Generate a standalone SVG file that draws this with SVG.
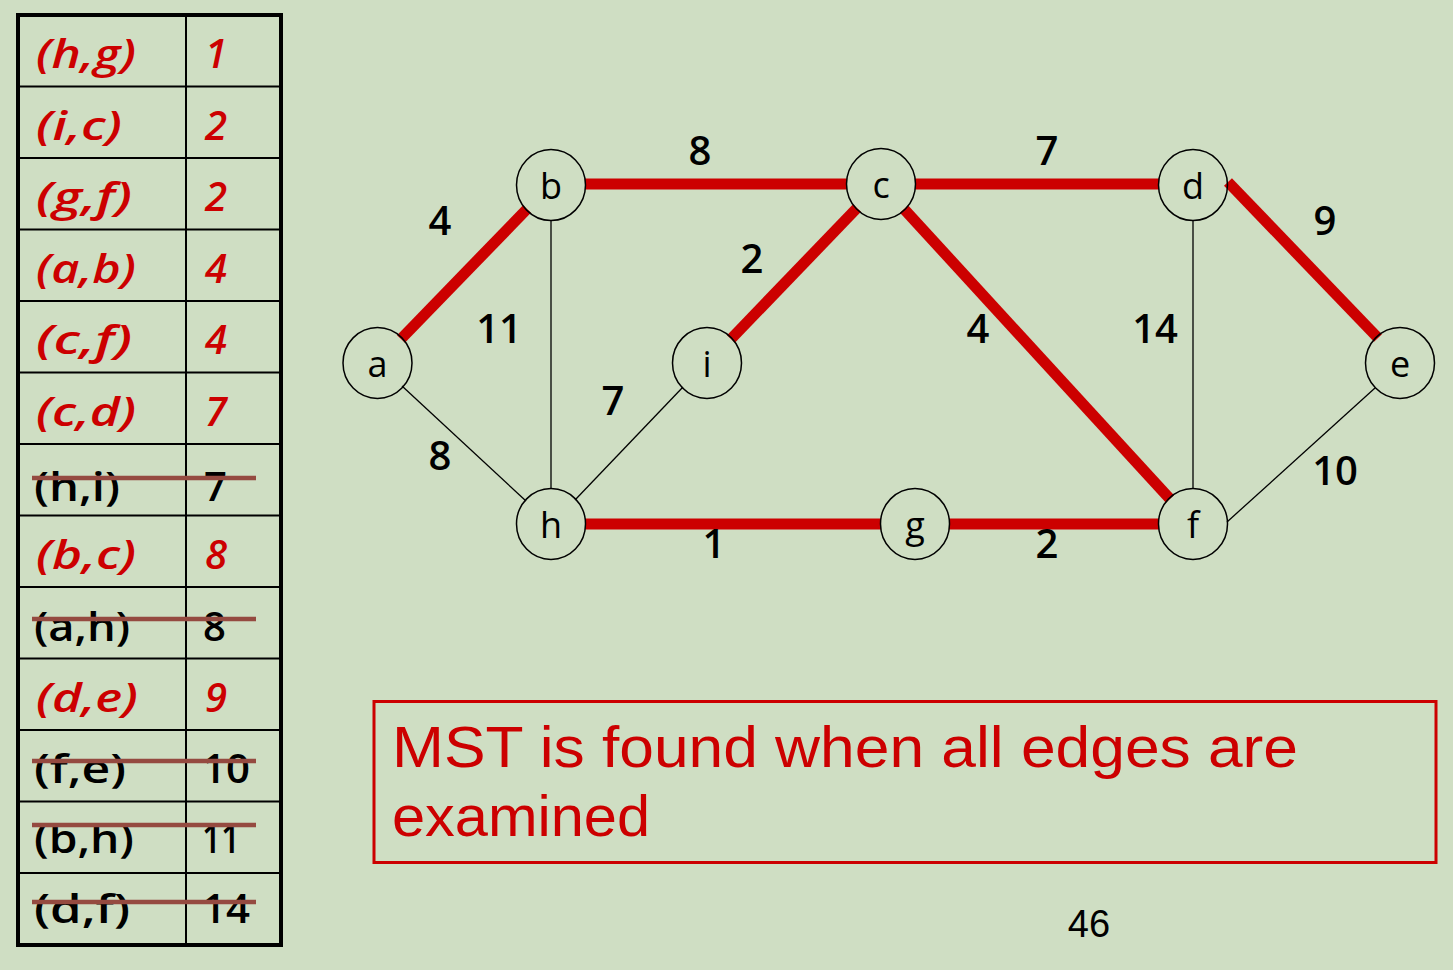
<svg xmlns="http://www.w3.org/2000/svg" width="1453" height="970" viewBox="0 0 1453 970">
<style>
.bg{fill:#cfdec3}
.grid{stroke:#000;stroke-width:2;fill:none}
.outer{stroke:#000;stroke-width:4;fill:none}
.sel{font-family:"Open Sans","DejaVu Sans",sans-serif;font-style:italic;font-weight:600;font-size:40px;fill:#cc0000}
.rej{font-family:"Open Sans","DejaVu Sans",sans-serif;font-weight:600;font-size:40px;fill:#000}
.strike{stroke:#954a40;stroke-width:4.5}
.node ellipse{fill:none;stroke:#000;stroke-width:1.5}
.node text{font-family:"Open Sans","DejaVu Sans",sans-serif;font-size:36px;fill:#000;text-anchor:middle}
.mst{stroke:#cc0000;stroke-width:11;fill:none}
.thin{stroke:#000;stroke-width:1.3;fill:none}
.w{font-family:"Open Sans","DejaVu Sans",sans-serif;font-weight:600;font-size:40px;fill:#000;text-anchor:middle}
.msg{font-family:"Liberation Sans",Arial,sans-serif;font-size:58px;fill:#cc0000}
</style>
<rect class="bg" x="0" y="0" width="1453" height="970"/>

<g id="table">
  <rect class="outer" x="18" y="15" width="263" height="930"/>
  <line class="grid" x1="186" y1="15" x2="186" y2="945"/>
  <line class="grid" x1="18" y1="86.5" x2="281" y2="86.5"/>
  <line class="grid" x1="18" y1="158" x2="281" y2="158"/>
  <line class="grid" x1="18" y1="229.5" x2="281" y2="229.5"/>
  <line class="grid" x1="18" y1="301" x2="281" y2="301"/>
  <line class="grid" x1="18" y1="372.5" x2="281" y2="372.5"/>
  <line class="grid" x1="18" y1="444" x2="281" y2="444"/>
  <line class="grid" x1="18" y1="515.5" x2="281" y2="515.5"/>
  <line class="grid" x1="18" y1="587" x2="281" y2="587"/>
  <line class="grid" x1="18" y1="658.5" x2="281" y2="658.5"/>
  <line class="grid" x1="18" y1="730" x2="281" y2="730"/>
  <line class="grid" x1="18" y1="801.5" x2="281" y2="801.5"/>
  <line class="grid" x1="18" y1="873" x2="281" y2="873"/>

  <text class="sel" x="36" y="68" textLength="100" lengthAdjust="spacingAndGlyphs">(h,g)</text>
  <text class="sel" x="205" y="68">1</text>
  <text class="sel" x="36" y="139.5" textLength="86" lengthAdjust="spacingAndGlyphs">(i,c)</text>
  <text class="sel" x="205" y="139.5">2</text>
  <text class="sel" x="36" y="211" textLength="96" lengthAdjust="spacingAndGlyphs">(g,f)</text>
  <text class="sel" x="205" y="211">2</text>
  <text class="sel" x="36" y="282.5" textLength="100" lengthAdjust="spacingAndGlyphs">(a,b)</text>
  <text class="sel" x="205" y="282.5">4</text>
  <text class="sel" x="36" y="354" textLength="96" lengthAdjust="spacingAndGlyphs">(c,f)</text>
  <text class="sel" x="205" y="354">4</text>
  <text class="sel" x="36" y="425.5" textLength="100" lengthAdjust="spacingAndGlyphs">(c,d)</text>
  <text class="sel" x="205" y="425.5">7</text>

  <text class="rej" x="34" y="501" textLength="86" lengthAdjust="spacingAndGlyphs">(h,i)</text>
  <text class="rej" x="204" y="501">7</text>
  <line class="strike" x1="32" y1="478" x2="256" y2="478"/>

  <text class="sel" x="36" y="568.5" textLength="100" lengthAdjust="spacingAndGlyphs">(b,c)</text>
  <text class="sel" x="205" y="568.5">8</text>

  <text class="rej" x="34" y="641" textLength="96" lengthAdjust="spacingAndGlyphs">(a,h)</text>
  <text class="rej" x="203" y="641">8</text>
  <line class="strike" x1="32" y1="619" x2="256" y2="619"/>

  <text class="sel" x="36" y="711.5" textLength="102" lengthAdjust="spacingAndGlyphs">(d,e)</text>
  <text class="sel" x="205" y="711.5">9</text>

  <text class="rej" x="34" y="783" textLength="92" lengthAdjust="spacingAndGlyphs">(f,e)</text>
  <text class="rej" x="202" y="783" textLength="48" lengthAdjust="spacingAndGlyphs">10</text>
  <line class="strike" x1="32" y1="761" x2="256" y2="761"/>

  <text class="rej" x="34" y="853" textLength="100" lengthAdjust="spacingAndGlyphs">(b,h)</text>
  <text class="rej" x="202" y="853" textLength="38" lengthAdjust="spacingAndGlyphs">11</text>
  <line class="strike" x1="32" y1="825" x2="256" y2="825"/>

  <text class="rej" x="34" y="923" textLength="96" lengthAdjust="spacingAndGlyphs">(d,f)</text>
  <text class="rej" x="202" y="923" textLength="48" lengthAdjust="spacingAndGlyphs">14</text>
  <line class="strike" x1="32" y1="902" x2="256" y2="902"/>
</g>

<g id="connectors">
  <line class="mst" x1="401" y1="339" x2="527" y2="209"/>
  <line class="mst" x1="585" y1="184" x2="847" y2="184"/>
  <line class="mst" x1="915" y1="184" x2="1159" y2="184"/>
  <line class="mst" x1="1228" y1="182" x2="1378" y2="338"/>
  <line class="mst" x1="857" y1="208" x2="731" y2="339"/>
  <line class="mst" x1="904" y1="209" x2="1170" y2="499"/>
  <line class="mst" x1="585" y1="524" x2="881" y2="524"/>
  <line class="mst" x1="949" y1="524" x2="1159" y2="524"/>
  <line class="thin" x1="551" y1="220" x2="551" y2="489"/>
  <line class="thin" x1="402" y1="386" x2="526" y2="501"/>
  <line class="thin" x1="575" y1="500" x2="683" y2="387"/>
  <line class="thin" x1="1193" y1="220" x2="1193" y2="489"/>
  <line class="thin" x1="1227" y1="522" x2="1375" y2="388"/>

  <text class="w" x="700" y="165">8</text>
  <text class="w" x="1047" y="165">7</text>
  <text class="w" x="440" y="235">4</text>
  <text class="w" x="752" y="273">2</text>
  <text class="w" x="499" y="343">11</text>
  <text class="w" x="613" y="415">7</text>
  <text class="w" x="440" y="470">8</text>
  <text class="w" x="714" y="558">1</text>
  <text class="w" x="1047" y="558">2</text>
  <text class="w" x="978" y="343">4</text>
  <text class="w" x="1155" y="343">14</text>
  <text class="w" x="1325" y="235">9</text>
  <text class="w" x="1335" y="485">10</text>
</g>

<g id="node-a" class="node"><ellipse cx="377.5" cy="363" rx="34.5" ry="35.5"/><text x="377.5" y="377">a</text></g>
<g id="node-b" class="node"><ellipse cx="551" cy="185" rx="34.5" ry="35.5"/><text x="551" y="199">b</text></g>
<g id="node-c" class="node"><ellipse cx="881" cy="184" rx="34.5" ry="35.5"/><text x="881" y="198">c</text></g>
<g id="node-d" class="node"><ellipse cx="1193" cy="185" rx="34.5" ry="35.5"/><text x="1193" y="199">d</text></g>
<g id="node-e" class="node"><ellipse cx="1400" cy="363" rx="34.5" ry="35.5"/><text x="1400" y="377">e</text></g>
<g id="node-f" class="node"><ellipse cx="1193" cy="524" rx="34.5" ry="35.5"/><text x="1193" y="538">f</text></g>
<g id="node-g" class="node"><ellipse cx="915" cy="524" rx="34.5" ry="35.5"/><text x="915" y="538">g</text></g>
<g id="node-h" class="node"><ellipse cx="551" cy="524" rx="34.5" ry="35.5"/><text x="551" y="538">h</text></g>
<g id="node-i" class="node"><ellipse cx="707" cy="363" rx="34.5" ry="35.5"/><text x="707" y="377">i</text></g>

<g id="note">
  <rect x="374" y="701.5" width="1062" height="161" fill="none" stroke="#cc0000" stroke-width="3"/>
  <text class="msg" x="392" y="767" textLength="906" lengthAdjust="spacingAndGlyphs">MST is found when all edges are</text>
  <text class="msg" x="392" y="836" textLength="258" lengthAdjust="spacingAndGlyphs">examined</text>
</g>

<text x="1089" y="937" font-family="Liberation Sans, Arial, sans-serif" font-size="38" fill="#000" text-anchor="middle">46</text>
</svg>
